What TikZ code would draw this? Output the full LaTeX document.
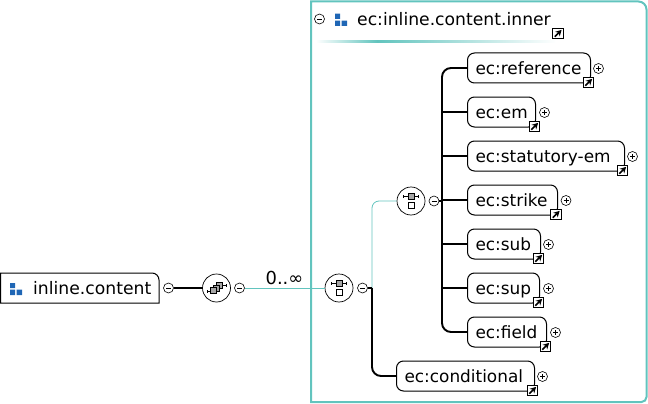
\documentclass[tikz,border=0pt]{standalone}
\usepackage{xcolor}
\usepackage{fontspec}
\setmainfont{DejaVu Sans}
\usetikzlibrary{arrows.meta}
\definecolor{tealline}{HTML}{62C4BE}
\definecolor{iconblue}{HTML}{1F66B5}
\definecolor{icongray}{HTML}{A6A6A6}
\tikzset{
  toggle/.style={circle, draw=black, line width=0.6pt, fill=white, minimum size=10pt, inner sep=0pt},
  minustoggle/.style={toggle, path picture={
      \draw[black, line width=0.7pt, shift={(path picture bounding box.center)}] (-2.5,0) -- (2.5,0);}},
  plustoggle/.style={toggle, path picture={
      \draw[black, line width=0.7pt, shift={(path picture bounding box.center)}] (-2.5,0) -- (2.5,0) (0,-2.5) -- (0,2.5);}},
  linkicon/.style={draw=black, line width=1pt, fill=white, minimum size=10.5pt, inner sep=0pt, path picture={
      \draw[black, line width=1.6pt, -{Stealth[length=6pt,width=6.5pt]}, shift={(path picture bounding box.center)}] (-3.2,3.2) -- (3.6,-3.6);}},
  modelcircle/.style={circle, draw=black, line width=0.7pt, fill=white, minimum size=28pt, inner sep=0pt},
  seqcircle/.style={modelcircle, path picture={
      \begin{scope}[shift={(path picture bounding box.center)}]
        \draw[black, line width=0.8pt, {Bar[width=3pt]}-{Bar[width=3pt]}] (-8,-4.7) -- (8,-4.7);
        \draw[line width=0.6pt, fill=icongray] (-3,-7.7) rectangle (3,-1.7);
        \draw[line width=0.6pt, fill=white] (-3,1.3) rectangle (3,7.3);
      \end{scope}}},
  allcircle/.style={modelcircle, path picture={
      \begin{scope}[shift={(path picture bounding box.center)}]
        \draw[black, line width=0.8pt, {Bar[width=3pt]}-] (-10,3.3) -- (-4,3.3);
        \draw[black, line width=0.8pt, -{Bar[width=3pt]}] (4,-2.3) -- (10,-2.3);
        \draw[line width=0.6pt, fill=icongray] (0,-5.3) rectangle (6,0.7);
        \draw[line width=0.6pt, fill=icongray] (-3,-3) rectangle (3,3);
        \draw[line width=0.6pt, fill=icongray] (-6,-0.3) rectangle (0,5.7);
      \end{scope}}},
  blueicon/.style={minimum size=12pt, inner sep=0pt, path picture={
      \begin{scope}[shift={(path picture bounding box.center)}]
        \fill[iconblue] (-6,-6.3) rectangle (-0.8,-1) (-6,0.7) rectangle (-0.8,6) (0.7,0.7) rectangle (6,6);
      \end{scope}}},
  elementbox/.style={draw=black, line width=1pt, fill=white, rounded corners=7pt, font=\fontsize{16.9}{20}\selectfont,
    anchor=west, minimum height=30pt, inner xsep=8pt, inner ysep=0pt, text height=13pt, text depth=0pt, align=left},
  bigtext/.style={font=\fontsize{17.2}{21}\selectfont, inner sep=0pt, text height=13pt, text depth=0pt},
  thickline/.style={draw=black, line width=1.9pt},
  thinline/.style={draw=tealline, line width=0.8pt},
}
\begin{document}
\begin{tikzpicture}[x=1pt, y=-1pt]
  \useasboundingbox (0,0) rectangle (648,404);

  % outer group frame
  \coordinate (framenw) at (311,1.5);
  \coordinate (framene) at (646.5,1.5);
  \coordinate (framese) at (646.5,402);
  \coordinate (framesw) at (311,402);
  \draw[tealline, line width=2pt] (framesw) -- (framenw) [rounded corners=8pt] -- (framene) [rounded corners=5pt] -- (framese) [sharp corners] -- cycle;

  % header of the group
  \node[minustoggle] (grouptoggle) at (319.5,19) {};
  \node[blueicon] (groupicon) at (341,20) {};
  \node[bigtext, anchor=west] (grouplabel) at (357,19) {ec:inline.content.inner};
  \node[linkicon] (grouplink) at (558,33.5) {};
  \fill[left color=white, right color=tealline] (316,41) rectangle (377,43);
  \fill[left color=tealline, right color=white] (377,41) rectangle (556,43);

  % root element
  \node[bigtext, anchor=west, minimum height=30pt, text width=117pt] (rootlabel) at (33,288) {inline.content};
  \coordinate (rootnw) at (0.5,273);
  \coordinate (rootne) at (159,273);
  \coordinate (rootse) at (159,303);
  \coordinate (rootsw) at (0.5,303);
  \draw[black, line width=1pt] (rootsw) -- (rootnw) [rounded corners=7pt] -- (rootne) [sharp corners] -- (rootse) -- cycle;
  \node[blueicon] (rooticon) at (16,289) {};
  \node[minustoggle] (roottoggle) at (168.5,288) {};

  % model groups
  \node[allcircle] (allgroup) at (216.5,288) {};
  \node[minustoggle] (alltoggle) at (239.5,288) {};
  \node[seqcircle] (outerseq) at (339,288) {};
  \node[minustoggle] (outertoggle) at (362.5,288) {};
  \node[seqcircle] (innerseq) at (411,201) {};
  \node[minustoggle] (innertoggle) at (434,201) {};
  \node[font=\fontsize{17.9}{21}\selectfont, inner sep=0pt, text height=13pt, text depth=0pt] (occurs) at (284.5,278) {0..∞};

  \coordinate (outertrunk) at (372,288);
  \coordinate (innertrunk) at (442,201);

  % child elements
  \node[elementbox, text width=107pt] (ecreference) at (467,68) {ec:reference};
  \node[elementbox, text width=52pt] (ecem) at (467,112) {ec:em};
  \node[elementbox, text width=141pt] (ecstatutory) at (467,156) {ec:statutory-em};
  \node[elementbox, text width=74pt] (ecstrike) at (467,200) {ec:strike};
  \node[elementbox, text width=57pt] (ecsub) at (467,244) {ec:sub};
  \node[elementbox, text width=56pt] (ecsup) at (467,288) {ec:sup};
  \node[elementbox, text width=63pt] (ecfield) at (467,332) {ec:field};
  \node[elementbox, text width=122pt] (ecconditional) at (396,376) {ec:conditional};

  % connectors
  \draw[thickline] (roottoggle) -- (allgroup);
  \draw[thinline] (alltoggle) -- (outerseq);
  \draw[thinline, rounded corners=7pt] (outertrunk) |- (innerseq);
  \draw[thickline] (outertoggle) -- (outertrunk);
  \draw[thickline, rounded corners=9pt] (outertrunk) |- (ecconditional.west);
  \draw[thickline] (innertoggle) -- (innertrunk);
  \draw[thickline, rounded corners=9pt] (innertrunk) |- (ecreference.west);
  \draw[thickline, rounded corners=9pt] (innertrunk) |- (ecfield.west);
  \draw[thickline] (innertrunk |- ecem.west) -- (ecem.west);
  \draw[thickline] (innertrunk |- ecstatutory.west) -- (ecstatutory.west);
  \draw[thickline] (innertrunk |- ecstrike.west) -- (ecstrike.west);
  \draw[thickline] (innertrunk |- ecsub.west) -- (ecsub.west);
  \draw[thickline] (innertrunk |- ecsup.west) -- (ecsup.west);

  % toggles and link marks of the children
  \node[plustoggle] (refplus) at (598.5,68.5) {};
  \node[linkicon] (reflink) at (588.5,82.5) {};
  \node[plustoggle] (emplus) at (544.5,112.5) {};
  \node[linkicon] (emlink) at (534.5,126.5) {};
  \node[plustoggle] (statplus) at (632.5,156.5) {};
  \node[linkicon] (statlink) at (622.5,170.5) {};
  \node[plustoggle] (strikeplus) at (566,200.5) {};
  \node[linkicon] (strikelink) at (556,214.5) {};
  \node[plustoggle] (subplus) at (548.5,244.5) {};
  \node[linkicon] (sublink) at (538.5,258.5) {};
  \node[plustoggle] (supplus) at (548.5,288.5) {};
  \node[linkicon] (suplink) at (538.5,302.5) {};
  \node[plustoggle] (fieldplus) at (555.5,332.5) {};
  \node[linkicon] (fieldlink) at (545.5,346.5) {};
  \node[plustoggle] (condplus) at (542.5,376.5) {};
  \node[linkicon] (condlink) at (532.5,390.5) {};
\end{tikzpicture}
\end{document}
